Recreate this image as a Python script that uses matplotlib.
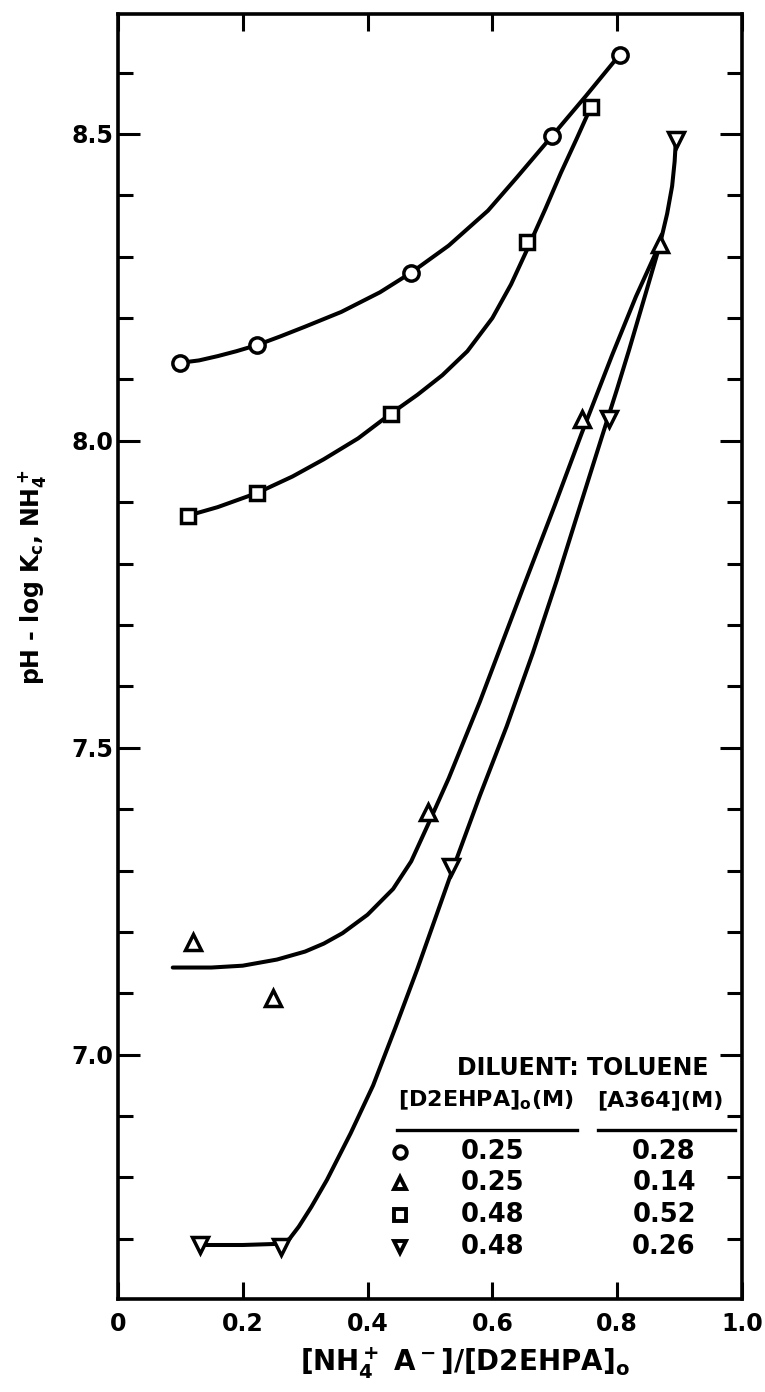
import numpy as np
import matplotlib.pyplot as plt
from matplotlib.ticker import MultipleLocator, FixedLocator, FixedFormatter

plt.rcParams['font.family'] = ['DejaVu Sans']
plt.rcParams['font.weight'] = 'bold'
plt.rcParams['axes.labelweight'] = 'bold'
plt.rcParams['mathtext.fontset'] = 'dejavusans'
plt.rcParams['mathtext.default'] = 'bf'

# measured points  [NH4+A-]/[D2EHPA]o  vs  pH - log Kc
circ_x = [0.099, 0.223, 0.470, 0.696, 0.804]
circ_y = [8.127, 8.156, 8.274, 8.497, 8.629]
tri_x = [0.120, 0.248, 0.497, 0.743, 0.868]
tri_y = [7.184, 7.093, 7.396, 8.036, 8.320]
sq_x = [0.112, 0.223, 0.437, 0.655, 0.758]
sq_y = [7.878, 7.915, 8.044, 8.324, 8.544]
dtri_x = [0.131, 0.262, 0.534, 0.787, 0.894]
dtri_y = [6.690, 6.686, 7.305, 8.036, 8.490]

# the drawn curves
circ_cx = [0.099, 0.13, 0.16, 0.19, 0.223, 0.26, 0.30, 0.358, 0.42, 0.470, 0.53, 0.593, 0.64, 0.696, 0.75, 0.804]
circ_cy = [8.127, 8.131, 8.138, 8.146, 8.156, 8.170, 8.186, 8.210, 8.242, 8.274, 8.318, 8.375, 8.430, 8.497, 8.562, 8.629]
sq_cx = [0.112, 0.16, 0.223, 0.28, 0.33, 0.385, 0.437, 0.48, 0.52, 0.56, 0.60, 0.63, 0.655, 0.685, 0.71, 0.735, 0.758]
sq_cy = [7.878, 7.892, 7.915, 7.942, 7.970, 8.004, 8.044, 8.075, 8.107, 8.146, 8.200, 8.255, 8.310, 8.378, 8.437, 8.492, 8.544]
tri_cx = [0.088, 0.15, 0.20, 0.255, 0.30, 0.33, 0.36, 0.40, 0.441, 0.47, 0.497, 0.53, 0.58, 0.649, 0.70, 0.743, 0.792, 0.83, 0.868]
tri_cy = [7.142, 7.142, 7.145, 7.155, 7.168, 7.181, 7.198, 7.228, 7.270, 7.315, 7.375, 7.450, 7.575, 7.760, 7.895, 8.012, 8.140, 8.235, 8.320]
dtri_cx = [0.131, 0.20, 0.262, 0.275, 0.29, 0.31, 0.335, 0.373, 0.409, 0.445, 0.48, 0.534, 0.58, 0.623, 0.665, 0.703,
           0.74, 0.775, 0.80, 0.819, 0.845, 0.868, 0.880, 0.888, 0.892, 0.894]
dtri_cy = [6.690, 6.690, 6.692, 6.700, 6.720, 6.752, 6.796, 6.872, 6.950, 7.045, 7.140, 7.295, 7.422, 7.535, 7.655, 7.772,
           7.892, 8.005, 8.085, 8.148, 8.238, 8.318, 8.370, 8.415, 8.455, 8.490]

# legend table
conc_d2ehpa = ['0.25', '0.25', '0.48', '0.48']
conc_a364 = ['0.28', '0.14', '0.52', '0.26']
leg_markers = ['o', '^', 's', 'v']

fig = plt.figure(figsize=(7.65, 13.92), dpi=100)
ax = fig.add_axes([0.154, 0.0668, 0.816, 0.923])

lw = 2.9
for cx, cy in [(circ_cx, circ_cy), (sq_cx, sq_cy), (tri_cx, tri_cy), (dtri_cx, dtri_cy)]:
    ax.plot(cx, cy, color='black', lw=lw, solid_capstyle='round', solid_joinstyle='round', zorder=2)

mk = dict(linestyle='none', mfc='white', mec='black', mew=2.5, zorder=3)
ax.plot(circ_x, circ_y, marker='o', ms=11, **mk)
ax.plot(tri_x, tri_y, marker='^', ms=12, **mk)
ax.plot(sq_x, sq_y, marker='s', ms=10, **mk)
ax.plot(dtri_x, dtri_y, marker='v', ms=12, **mk)

ax.set_xlim(0, 1.0)
ax.set_ylim(6.602, 8.695)

ax.xaxis.set_major_locator(FixedLocator([0, 0.2, 0.4, 0.6, 0.8, 1.0]))
ax.xaxis.set_major_formatter(FixedFormatter(['0', '0.2', '0.4', '0.6', '0.8', '1.0']))
ax.yaxis.set_major_locator(FixedLocator([7.0, 7.5, 8.0, 8.5]))
ax.yaxis.set_major_formatter(FixedFormatter(['7.0', '7.5', '8.0', '8.5']))
ax.yaxis.set_minor_locator(MultipleLocator(0.1))

ax.tick_params(axis='both', which='both', direction='in', top=True, right=True, width=2.2, color='black')
ax.tick_params(axis='y', which='major', length=16, labelsize=17, pad=3)
ax.tick_params(axis='y', which='minor', length=11)
ax.tick_params(axis='x', which='major', length=12, labelsize=17, pad=9)
for s in ax.spines.values():
    s.set_linewidth(2.6)

ax.set_xlabel(r'[NH$_4^+$ A$^-$]/[D2EHPA]$_o$', fontsize=20)
ax.xaxis.set_label_coords(0.556, -0.036)
ax.set_ylabel(r'pH - log K$_{c}$, NH$_4^+$', fontsize=17)
ax.yaxis.set_label_coords(-0.112, 0.562)

# legend table drawn in the corner
ax.text(0.745, 0.180, 'DILUENT: TOLUENE', transform=ax.transAxes, ha='center', va='center', fontsize=17)
ax.text(0.590, 0.155, r'[D2EHPA]$_o$(M)', transform=ax.transAxes, ha='center', va='center', fontsize=16)
ax.text(0.869, 0.155, '[A364](M)', transform=ax.transAxes, ha='center', va='center', fontsize=16)
ax.plot([0.447, 0.736], [0.1315, 0.1315], transform=ax.transAxes, color='black', lw=2.4)
ax.plot([0.769, 0.989], [0.1315, 0.1315], transform=ax.transAxes, color='black', lw=2.4)

row_y = [0.1144, 0.0903, 0.0654, 0.0405]
for m, c1, c2, ry in zip(leg_markers, conc_d2ehpa, conc_a364, row_y):
    ax.plot([0.452], [ry], marker=m, ms=9, mfc='white', mec='black', mew=2.8, transform=ax.transAxes)
    ax.text(0.601, ry, c1, transform=ax.transAxes, ha='center', va='center', fontsize=18.5)
    ax.text(0.875, ry, c2, transform=ax.transAxes, ha='center', va='center', fontsize=18.5)

fig.savefig('out.png', dpi=100)
